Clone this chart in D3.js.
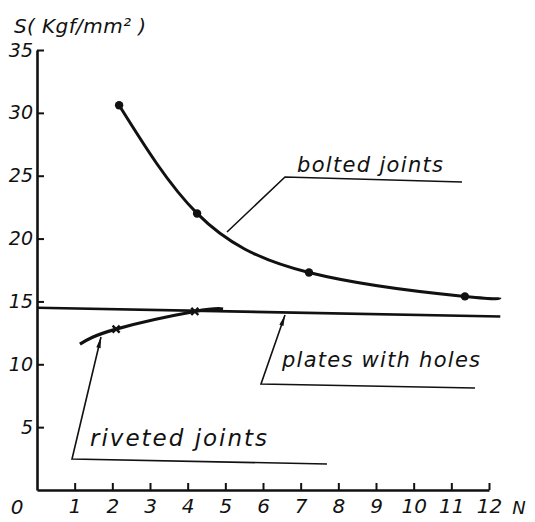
<html>
<head>
  <script src="https://d3js.org/d3.v7.min.js"></script>
  <style>
    body { margin: 0; background: #fff; }
    text { font-family: "DejaVu Sans", sans-serif; font-style: italic; fill: #111; }
  </style>
</head>
<body>
  <svg id="chart" width="535" height="522"></svg>
  <script>
    // values
    const boltedN = [2.18, 4.25, 7.22, 11.36];
    const boltedS = [30.6, 22.0, 17.3, 15.4];
    const boltedEndN = 12.29, boltedEndS = 15.3;

    const rivetedN = [2.1, 4.19];
    const rivetedS = [12.8, 14.2];
    const rivetedStart = [1.14, 11.6], rivetedEnd = [4.94, 14.4];

    const platesN = [0, 12.3];
    const platesS = [14.5, 13.8];

    const xTicks = [1, 2, 3, 4, 5, 6, 7, 8, 9, 10, 11, 12];
    const yTicks = [5, 10, 15, 20, 25, 30, 35];

    const svg = d3.select("#chart");
    const x = d3.scaleLinear().domain([0, 12]).range([37, 489]);
    const y = d3.scaleLinear().domain([0, 35]).range([490, 50]);
    const ink = "#111";

    // axes, ticks pointing inward
    const xAxis = svg.append("g")
      .attr("transform", "translate(0," + y(0) + ")")
      .call(d3.axisBottom(x).tickValues(xTicks).tickSizeInner(-7).tickSizeOuter(0).tickPadding(9));
    const yAxis = svg.append("g")
      .attr("transform", "translate(" + x(0) + ",0)")
      .call(d3.axisLeft(y).tickValues(yTicks).tickSizeInner(-7).tickSizeOuter(0).tickPadding(4));

    [xAxis, yAxis].forEach(g => {
      g.select(".domain").attr("stroke", ink).attr("stroke-width", 2.6);
      g.selectAll(".tick line").attr("stroke", ink).attr("stroke-width", 2);
      g.selectAll(".tick text").attr("fill", ink).style("font-family", "DejaVu Sans").style("font-style", "italic");
    });
    xAxis.selectAll(".tick text").attr("font-size", 20).attr("dy", "0.72em");
    yAxis.selectAll(".tick text").attr("font-size", 19);

    svg.append("text").attr("x", 17).attr("y", 514).attr("text-anchor", "middle")
      .attr("font-size", 20).text("0");
    svg.append("text").attr("x", 519).attr("y", 514).attr("text-anchor", "middle")
      .attr("font-size", 18).text("N");
    svg.append("text").attr("x", 14).attr("y", 33).attr("font-size", 20)
      .attr("textLength", 132).attr("lengthAdjust", "spacing")
      .text("S( Kgf/mm² )");

    const line = d3.line().x(d => x(d[0])).y(d => y(d[1]));

    // bolted joints curve
    const boltedPts = boltedN.map((n, i) => [n, boltedS[i]]).concat([[boltedEndN, boltedEndS]]);
    svg.append("path").datum(boltedPts)
      .attr("d", line.curve(d3.curveNatural))
      .attr("fill", "none").attr("stroke", ink).attr("stroke-width", 3);
    svg.selectAll(".bdot").data(boltedN.map((n, i) => [n, boltedS[i]]))
      .join("circle").attr("class", "bdot")
      .attr("cx", d => x(d[0])).attr("cy", d => y(d[1])).attr("r", 4.2).attr("fill", ink);

    // plates with holes
    svg.append("path").datum(platesN.map((n, i) => [n, platesS[i]]))
      .attr("d", line.curve(d3.curveLinear))
      .attr("fill", "none").attr("stroke", ink).attr("stroke-width", 2.6);

    // riveted joints curve
    const rivetedPts = [rivetedStart].concat(rivetedN.map((n, i) => [n, rivetedS[i]]), [rivetedEnd]);
    svg.append("path").datum(rivetedPts)
      .attr("d", line.curve(d3.curveNatural))
      .attr("fill", "none").attr("stroke", ink).attr("stroke-width", 3.2);
    svg.selectAll(".rmark").data(rivetedN.map((n, i) => [n, rivetedS[i]]))
      .join("path").attr("class", "rmark")
      .attr("transform", d => "translate(" + x(d[0]) + "," + y(d[1]) + ") rotate(45)")
      .attr("d", "M-5,0H5M0,-5V5")
      .attr("stroke", ink).attr("stroke-width", 2.4);

    // leaders and labels
    const leader = d3.line();
    const drawLeader = (pts, arrow) => {
      svg.append("path").datum(pts).attr("d", leader)
        .attr("fill", "none").attr("stroke", ink).attr("stroke-width", 1.6);
      if (arrow) {
        const [a, b] = [pts[0], pts[1]];
        const ang = Math.atan2(b[1] - a[1], b[0] - a[0]) * 180 / Math.PI;
        svg.append("path")
          .attr("transform", "translate(" + a[0] + "," + a[1] + ") rotate(" + ang + ")")
          .attr("d", "M0,0L11,-2.2L11,2.2Z").attr("fill", ink);
      }
    };
    drawLeader([[227, 232], [285, 177], [462, 182]], false);
    drawLeader([[285, 315], [261, 384], [475, 388]], true);
    drawLeader([[101, 337], [72, 459], [327, 464]], true);

    svg.append("text").attr("x", 297).attr("y", 172).attr("font-size", 21)
      .attr("textLength", 146).attr("lengthAdjust", "spacing").text("bolted joints");
    svg.append("text").attr("x", 282).attr("y", 367).attr("font-size", 21)
      .attr("textLength", 198).attr("lengthAdjust", "spacing").text("plates with holes");
    svg.append("text").attr("x", 90).attr("y", 446).attr("font-size", 23)
      .attr("textLength", 177).attr("lengthAdjust", "spacing").text("riveted joints");
  </script>
</body>
</html>
